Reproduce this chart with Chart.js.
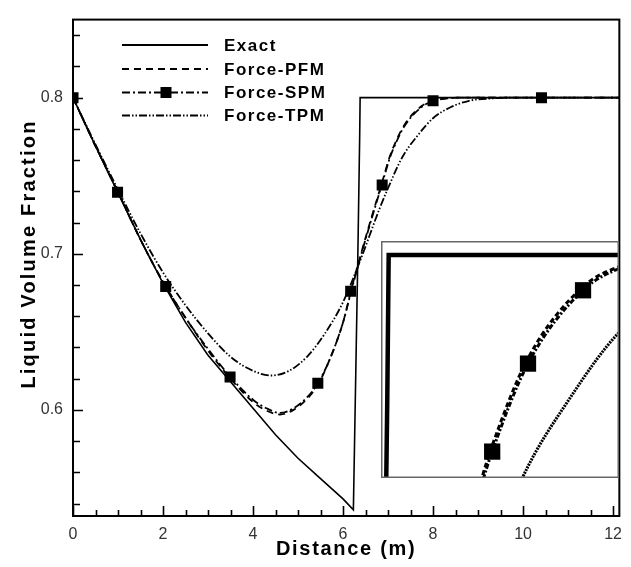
<!DOCTYPE html>
<html><head><meta charset="utf-8">
<script src="https://cdn.jsdelivr.net/npm/chart.js@4/dist/chart.umd.min.js"></script>
<style>
html,body{margin:0;padding:0;background:#fff;}
#wrap{position:relative;width:631px;height:567px;}
#inset{position:absolute;left:381px;top:241px;}
</style></head>
<body>
<div id="wrap">
<canvas id="main" width="631" height="567"></canvas>
<canvas id="inset" width="238" height="237"></canvas>
</div>
<script>
// ---- data ----
const exactX = [0, 0.5, 1, 1.5, 2, 2.5, 3, 3.5, 4, 4.5, 5, 5.5, 6, 6.23, 6.33, 6.37, 6.38, 12.14];
const exactY = [0.800, 0.769, 0.739, 0.709, 0.681, 0.656, 0.635, 0.618, 0.601, 0.584, 0.569, 0.556, 0.543, 0.536, 0.700, 0.775, 0.800, 0.800];

const pfmX = [0, 0.5, 1, 1.5, 2, 2.5, 3, 3.5, 4, 4.3, 4.6, 4.9, 5.2, 5.44, 5.7, 6.0, 6.2, 6.4, 6.6, 6.86, 7.03, 7.108, 7.36, 7.747, 8.0, 8.3, 8.6, 12.14];
const pfmY = [0.800, 0.769, 0.7394, 0.709, 0.682, 0.659, 0.638, 0.620, 0.605, 0.5995, 0.597, 0.600, 0.607, 0.616, 0.632, 0.656, 0.679, 0.700, 0.720, 0.745, 0.7615, 0.7675, 0.7824, 0.7946, 0.7980, 0.7996, 0.800, 0.800];

const spmX = [0, 0.5, 1, 1.5, 2, 2.5, 3, 3.5, 4, 4.3, 4.6, 4.9, 5.2, 5.44, 5.7, 6.0, 6.2, 6.4, 6.6, 6.86, 7.03, 7.108, 7.36, 7.747, 8.0, 8.3, 8.6, 12.14];
const spmY = [0.800, 0.769, 0.7394, 0.709, 0.682, 0.659, 0.639, 0.621, 0.6065, 0.601, 0.598, 0.601, 0.608, 0.617, 0.632, 0.656, 0.678, 0.699, 0.719, 0.744, 0.7605, 0.7665, 0.7815, 0.7940, 0.7977, 0.7995, 0.800, 0.800];

const tpmX = [0, 0.5, 1, 1.5, 2, 2.5, 3, 3.5, 4, 4.4, 4.8, 5.2, 5.6, 6.0, 6.4, 6.8, 7.0, 7.32, 7.66, 8.0, 8.4, 8.8, 9.3, 9.8, 12.14];
const tpmY = [0.800, 0.770, 0.741, 0.713, 0.688, 0.667, 0.649, 0.634, 0.625, 0.622, 0.625, 0.634, 0.649, 0.669, 0.697, 0.728, 0.742, 0.762, 0.7758, 0.7868, 0.794, 0.798, 0.7995, 0.800, 0.800];

// square symbols on Force-SPM (main frame and zoom frame)
const spmMarkX = [0, 0.99, 2.06, 3.49, 5.44, 6.17, 6.87, 8.0, 10.41];
const spmMarkY = [0.800, 0.7394, 0.679, 0.621, 0.617, 0.676, 0.744, 0.798, 0.800];
const insetMarkX = [7.108, 7.36, 7.747];
const insetMarkY = [0.7665, 0.7815, 0.794];

const xTicks = [0, 2, 4, 6, 8, 10, 12];
const yTicks = [0.6, 0.7, 0.8];
const xRange = [0, 12.14];
const yRange = [0.532, 0.85];
const insetXRange = [6.326, 8.0];
const insetYRange = [0.762, 0.8024];

const seriesNames = ['Exact', 'Force-PFM', 'Force-SPM', 'Force-TPM'];
const xTitle = 'Distance (m)';
const yTitle = 'Liquid Volume Fraction';

// ---- build ----
const pts = (xs, ys) => xs.map((x, i) => ({x: x, y: ys[i]}));
const FONT = '"Liberation Sans", Arial, sans-serif';

function makeDatasets(st) {
  return [
    {label: seriesNames[0], data: pts(exactX, exactY), showLine: true, borderColor: '#000', borderWidth: st.ew, pointRadius: 0, tension: 0},
    {label: seriesNames[1], data: pts(pfmX, pfmY), showLine: true, borderColor: '#000', borderWidth: st.w, borderDash: st.d1, pointRadius: 0, cubicInterpolationMode: 'monotone'},
    {label: seriesNames[2], data: pts(spmX, spmY), showLine: true, borderColor: '#000', borderWidth: st.w, borderDash: st.d2, pointRadius: 0, cubicInterpolationMode: 'monotone'},
    {label: seriesNames[3], data: pts(tpmX, tpmY), showLine: true, borderColor: '#000', borderWidth: st.w, borderDash: st.d3, pointRadius: 0, cubicInterpolationMode: 'monotone'},
    {label: 'SPM symbols', data: st.marks, showLine: false, pointStyle: 'rect', pointRadius: st.mr, backgroundColor: '#000', borderColor: '#000', borderWidth: 0}
  ];
}

const mainStyle = {w: 1.8, ew: 1.6, mr: 7.8, d1: [7, 5], d2: [8, 3, 2, 3], d3: [8, 2, 1.5, 2, 1.5, 2], marks: pts(spmMarkX, spmMarkY)};
const insetStyle = {w: 3, ew: 4.5, mr: 11.5, d1: [5, 3], d2: [5, 2, 2, 2], d3: [2, 1], marks: pts(insetMarkX, insetMarkY)};

const decor = {
  id: 'decor',
  afterDraw(chart) {
    const ctx = chart.ctx, a = chart.chartArea;
    const xs = chart.scales.x, ys = chart.scales.y;
    ctx.save();
    ctx.strokeStyle = '#000';
    ctx.lineWidth = 2;
    ctx.setLineDash([]);
    ctx.strokeRect(a.left, a.top, a.right - a.left, a.bottom - a.top);
    // inward ticks
    ctx.lineWidth = 1.6;
    ctx.beginPath();
    for (let v = 0; v <= 12.0001; v += 0.5) {
      const px = Math.round(xs.getPixelForValue(v)) + 0.5;
      const major = Math.abs(v / 2 - Math.round(v / 2)) < 1e-6;
      ctx.moveTo(px, a.bottom); ctx.lineTo(px, a.bottom - (major ? 10 : 6));
    }
    for (let k = 27; k <= 42; k++) {
      const v = k * 0.02;
      if (v < yRange[0] || v > yRange[1]) continue;
      const py = Math.round(ys.getPixelForValue(v)) + 0.5;
      const major = k % 5 === 0;
      ctx.moveTo(a.left, py); ctx.lineTo(a.left + (major ? 10 : 7), py);
    }
    ctx.stroke();
    // legend
    const rows = [45, 69, 92.5, 115.5];
    const dss = chart.data.datasets;
    ctx.font = 'bold 17px ' + FONT;
    ctx.textBaseline = 'middle';
    ctx.textAlign = 'left';
    ctx.fillStyle = '#000';
    for (let i = 0; i < 4; i++) {
      const ds = dss[i];
      ctx.setLineDash(ds.borderDash || []);
      ctx.lineWidth = 2;
      ctx.beginPath();
      ctx.moveTo(122, rows[i]); ctx.lineTo(208, rows[i]);
      ctx.stroke();
      ctx.setLineDash([]);
      if (i === 2) ctx.fillRect(166 - 5.5, rows[i] - 5.5, 11, 11);
      ctx.letterSpacing = '1.5px';
      ctx.fillText(ds.label, 224, rows[i] + 1);
      ctx.letterSpacing = '0px';
    }
    // axis titles
    ctx.font = 'bold 20px ' + FONT;
    ctx.textAlign = 'center';
    ctx.letterSpacing = '1.7px';
    ctx.fillText(xTitle, (a.left + a.right) / 2, 549);
    ctx.save();
    ctx.translate(29, 254);
    ctx.rotate(-Math.PI / 2);
    ctx.letterSpacing = '2.2px';
    ctx.fillText(yTitle, 0, 0);
    ctx.restore();
    ctx.letterSpacing = '0px';
    ctx.restore();
  }
};

new Chart(document.getElementById('main'), {
  type: 'scatter',
  data: {datasets: makeDatasets(mainStyle)},
  options: {
    responsive: false, animation: false, devicePixelRatio: 1,
    layout: {autoPadding: false, padding: {top: 12, right: 5, left: 0, bottom: 0}},
    plugins: {legend: {display: false}, tooltip: {enabled: false}},
    scales: {
      x: {type: 'linear', min: xRange[0], max: xRange[1],
          afterBuildTicks: s => { s.ticks = xTicks.map(v => ({value: v})); },
          afterFit: s => { s.height = 51; },
          grid: {display: false, drawTicks: false}, border: {display: false},
          ticks: {font: {family: FONT, size: 16}, color: '#333', padding: 9, maxRotation: 0, callback: v => String(v)}},
      y: {type: 'linear', min: yRange[0], max: yRange[1],
          afterBuildTicks: s => { s.ticks = yTicks.map(v => ({value: v})); },
          afterFit: s => { s.width = 73; },
          grid: {display: false, drawTicks: false}, border: {display: false},
          ticks: {font: {family: FONT, size: 16}, color: '#333', padding: 10, callback: v => v.toFixed(1)}}
    }
  },
  plugins: [decor]
});

const insetFrame = {
  id: 'insetFrame',
  beforeDraw(chart) {
    const ctx = chart.ctx;
    ctx.save(); ctx.fillStyle = '#fff'; ctx.fillRect(0, 0, chart.width, chart.height); ctx.restore();
  },
  afterDraw(chart) {
    const ctx = chart.ctx;
    ctx.save(); ctx.strokeStyle = '#666'; ctx.lineWidth = 1.5; ctx.setLineDash([]);
    ctx.strokeRect(0.75, 0.75, chart.width - 1.5, chart.height - 1.5); ctx.restore();
  }
};

new Chart(document.getElementById('inset'), {
  type: 'scatter',
  data: {datasets: makeDatasets(insetStyle)},
  options: {
    responsive: false, animation: false, devicePixelRatio: 1,
    layout: {autoPadding: false, padding: 0},
    plugins: {legend: {display: false}, tooltip: {enabled: false}},
    scales: {
      x: {type: 'linear', display: false, min: insetXRange[0], max: insetXRange[1]},
      y: {type: 'linear', display: false, min: insetYRange[0], max: insetYRange[1]}
    }
  },
  plugins: [insetFrame]
});
</script>
</body></html>
